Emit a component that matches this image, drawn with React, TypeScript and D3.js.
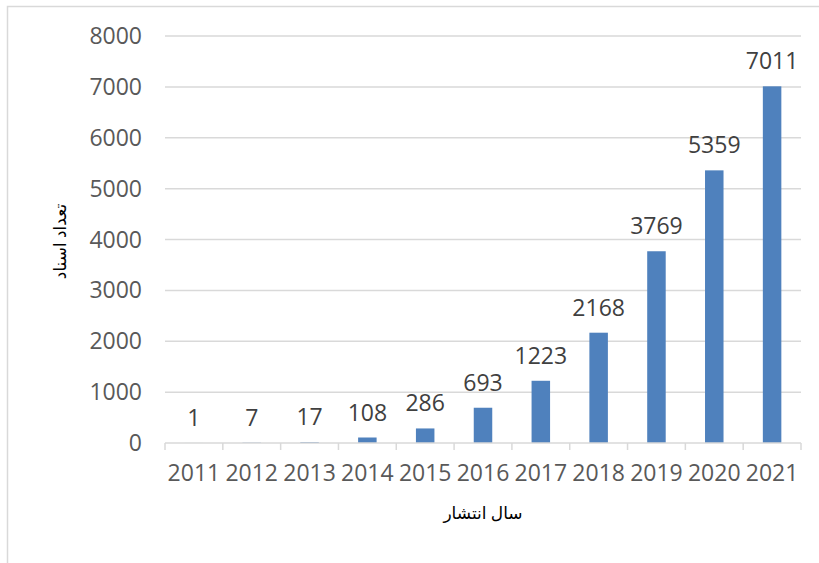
import React, { useRef, useEffect } from 'react';
import * as d3 from 'd3';

const years: string[] = ['2011', '2012', '2013', '2014', '2015', '2016', '2017', '2018', '2019', '2020', '2021'];
const counts: number[] = [1, 7, 17, 108, 286, 693, 1223, 2168, 3769, 5359, 7011];
const yTicks: number[] = [0, 1000, 2000, 3000, 4000, 5000, 6000, 7000, 8000];

const yTitle = 'تعداد اسناد';
const xTitle = 'سال انتشار';

const W = 819;
const H = 563;

const Chart: React.FC = () => {
  const svgRef = useRef<SVGSVGElement | null>(null);

  useEffect(() => {
    if (!svgRef.current) return;
    const svg = d3.select(svgRef.current);
    svg.selectAll('*').remove();

    const margin = { top: 36, right: 18, bottom: 120, left: 165 };
    const numFont = '"Open Sans", "DejaVu Sans", sans-serif';
    const arFont = '"Liberation Serif", "DejaVu Serif", "DejaVu Sans", serif';
    const fs = 23;

    // chart frame (left + top edges only are visible)
    svg.append('path')
      .attr('d', `M7.5,${H} V6.5 H${W}`)
      .attr('fill', 'none')
      .attr('stroke', '#d9d9d9')
      .attr('stroke-width', 1.5);

    const x = d3.scaleBand<string>()
      .domain(years)
      .range([margin.left, W - margin.right])
      .paddingInner(0.68)
      .paddingOuter(0.34);

    const y = d3.scaleLinear()
      .domain([0, 8000])
      .range([H - margin.bottom, margin.top]);

    // gridlines
    svg.append('g')
      .selectAll('line')
      .data(yTicks.filter(t => t > 0))
      .join('line')
      .attr('x1', margin.left)
      .attr('x2', W - margin.right)
      .attr('y1', d => y(d))
      .attr('y2', d => y(d))
      .attr('stroke', '#d9d9d9')
      .attr('stroke-width', 1.5);

    // y tick labels
    svg.append('g')
      .selectAll('text')
      .data(yTicks)
      .join('text')
      .attr('x', 142)
      .attr('y', d => y(d))
      .attr('dy', '0.35em')
      .attr('text-anchor', 'end')
      .attr('font-family', numFont)
      .attr('font-size', fs)
      .attr('fill', '#595959')
      .text(d => String(d));

    // bars
    svg.append('g')
      .selectAll('rect')
      .data(counts)
      .join('rect')
      .attr('x', (d, i) => x(years[i])!)
      .attr('width', x.bandwidth())
      .attr('y', d => y(d))
      .attr('height', d => y(0) - y(d))
      .attr('fill', '#4f81bd');

    // data labels
    svg.append('g')
      .selectAll('text')
      .data(counts)
      .join('text')
      .attr('x', (d, i) => x(years[i])! + x.bandwidth() / 2)
      .attr('y', d => y(d) - 17)
      .attr('text-anchor', 'middle')
      .attr('font-family', numFont)
      .attr('font-size', fs)
      .attr('fill', '#404040')
      .text(d => String(d));

    // x axis line + tick marks at category boundaries
    const step = x.step();
    const x0 = margin.left;
    const axis = svg.append('g');
    axis.append('line')
      .attr('x1', x0)
      .attr('x2', W - margin.right)
      .attr('y1', y(0))
      .attr('y2', y(0))
      .attr('stroke', '#d9d9d9')
      .attr('stroke-width', 1.5);
    axis.selectAll('line.tick')
      .data(d3.range(years.length + 1))
      .join('line')
      .attr('class', 'tick')
      .attr('x1', i => x0 + i * step)
      .attr('x2', i => x0 + i * step)
      .attr('y1', y(0))
      .attr('y2', y(0) + 7)
      .attr('stroke', '#d9d9d9')
      .attr('stroke-width', 1.5);

    // year labels
    svg.append('g')
      .selectAll('text')
      .data(years)
      .join('text')
      .attr('x', d => x(d)! + x.bandwidth() / 2)
      .attr('y', y(0) + 30)
      .attr('dy', '0.35em')
      .attr('text-anchor', 'middle')
      .attr('font-family', numFont)
      .attr('font-size', fs)
      .attr('fill', '#595959')
      .text(d => d);

    // axis titles
    svg.append('text')
      .attr('transform', `translate(60,${(y(0) + y(8000)) / 2 + 2}) rotate(-90)`)
      .attr('text-anchor', 'middle')
      .attr('dy', '0.35em')
      .attr('font-family', arFont)
      .attr('font-size', 17)
      .attr('fill', '#000')
      .text(yTitle);

    svg.append('text')
      .attr('x', (margin.left + W - margin.right) / 2)
      .attr('y', 513)
      .attr('dy', '0.35em')
      .attr('text-anchor', 'middle')
      .attr('font-family', arFont)
      .attr('font-size', 17)
      .attr('fill', '#000')
      .text(xTitle);
  }, []);

  return <svg ref={svgRef} width={W} height={H} style={{ display: 'block', background: '#fff' }}></svg>;
};

export default function App() {
  return (
    <div style={{ position: 'absolute', left: 0, top: 0 }}>
      <Chart />
    </div>
  );
}
